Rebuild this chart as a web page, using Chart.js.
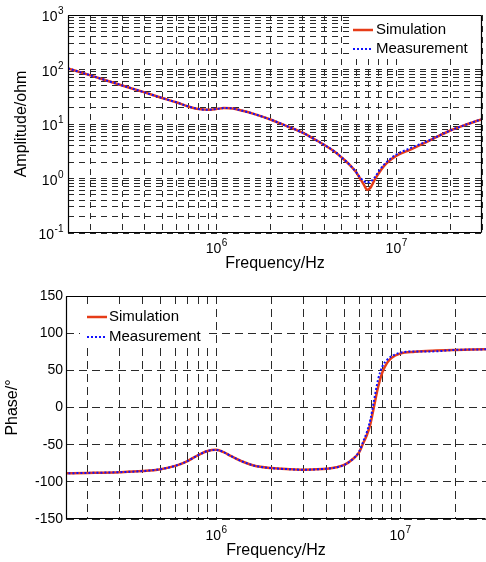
<!DOCTYPE html>
<html>
<head>
<meta charset="utf-8">
<script src="https://cdn.jsdelivr.net/npm/chart.js@4.4.0/dist/chart.umd.min.js"></script>
<style>
    html, body { margin: 0; padding: 0; background: #fff; }
    #wrap { position: relative; width: 486px; height: 562px; overflow: hidden; }
    canvas { position: absolute; left: 0; }
    #ampCanvas { top: 0; }
    #phaseCanvas { top: 280px; }
</style>
</head>
<body>
<div id="wrap">
    <canvas id="ampCanvas" width="486" height="280"></canvas>
    <canvas id="phaseCanvas" width="486" height="282"></canvas>
</div>
<script>
// frequency samples (Hz)
const freq = [1.5e5, 2e5, 3e5, 4e5, 5e5, 6e5, 7e5, 8e5, 9e5, 1e6, 1.1e6, 1.2e6, 1.4e6, 1.6e6,
    2e6, 2.5e6, 3e6, 3.5e6, 4e6, 4.5e6, 5e6, 5.5e6, 6e6, 6.3e6, 6.6e6, 6.9e6, 7.2e6, 7.6e6,
    8e6, 8.5e6, 9e6, 1e7, 1.2e7, 1.5e7, 2e7, 2.5e7, 3e7];

// amplitude (ohm)
const ampSim = [105, 78, 51, 38, 30, 25, 21, 18.8, 18.2, 18.8, 19.6, 19.5, 17.5, 15.5,
    12.1, 9, 7, 5.3, 4.1, 3.2, 2.4, 1.8, 1.3, 1.0, 0.78, 0.62, 0.68, 0.95,
    1.25, 1.65, 2.0, 2.6, 3.4, 4.8, 7.6, 10, 12.3];
const ampMeas = [105, 78, 51, 38, 30, 25, 21, 18.8, 18.2, 18.8, 19.6, 19.5, 17.5, 15.5,
    12.1, 9, 7, 5.3, 4.1, 3.2, 2.4, 1.8, 1.3, 1.05, 0.9, 0.85, 0.88, 1.05,
    1.35, 1.75, 2.1, 2.75, 3.6, 4.9, 7.6, 10, 12.3];

// phase (degree)
const phaseSim = [-88.5, -88, -87, -85.5, -83, -78.5, -72, -64, -58.5, -57, -60, -65, -73, -78,
    -81.5, -83, -83.7, -83.2, -82.3, -80.5, -77, -70, -60, -48, -37, -22, 0, 28,
    47, 60, 67, 72.5, 75, 76.5, 77.5, 78, 78.3];
const phaseMeas = [-88.5, -88, -87, -85.5, -83, -78.5, -72, -64, -58.5, -57, -60, -65, -73, -78,
    -81.5, -83, -83.7, -83.2, -82.3, -80.5, -77, -70, -59, -46, -33, -16, 8, 38,
    55, 64, 69, 73.5, 75.5, 75.5, 77.5, 78, 78.3];

const seriesNames = ['Simulation', 'Measurement'];
const freqDecades = [1e5, 1e6, 1e7];
const ampDecades = [0.1, 1, 10, 100, 1000];
const phaseTicks = [-150, -100, -50, 0, 50, 100, 150];

const FONT = '"Liberation Sans", Arial, sans-serif';

// 1..9 x decade, for log grid lines
function logTicks(decades, min, max) {
    const out = [];
    decades.forEach(d => {
        for (let k = 1; k < 10; k++) {
            const v = d * k;
            if (v >= min * 0.9999 && v <= max * 1.0001) out.push({ value: v });
        }
    });
    return out;
}

function toPoints(ys) {
    return freq.map((f, i) => ({ x: f, y: ys[i] }));
}

function makeDatasets(sim, meas) {
    return [{
        label: seriesNames[0],
        data: toPoints(sim),
        borderColor: '#e63c18',
        borderWidth: 2.5,
        pointRadius: 0,
        order: 1,
        cubicInterpolationMode: 'monotone'
    }, {
        label: seriesNames[1],
        data: toPoints(meas),
        borderColor: '#1010ff',
        borderWidth: 2,
        borderDash: [2, 2],
        pointRadius: 0,
        order: 0,
        cubicInterpolationMode: 'monotone'
    }];
}

function framePlugin(sides) {
    return {
        id: 'frame',
        afterDraw(chart) {
            const { ctx, chartArea: a } = chart;
            const l = Math.round(a.left) + 0.5, r = Math.round(a.right) - 0.5;
            const t = Math.round(a.top) + 0.5, b = Math.round(a.bottom) - 0.5;
            ctx.save();
            ctx.strokeStyle = '#000';
            ctx.lineWidth = 1.2;
            ctx.beginPath();
            ctx.moveTo(l, t); ctx.lineTo(l, b); ctx.lineTo(r, b);
            if (sides.right) { ctx.moveTo(r, b); ctx.lineTo(r, t); }
            ctx.moveTo(l, t); ctx.lineTo(r, t);
            ctx.stroke();
            ctx.restore();
        }
    };
}

// "10" with a raised exponent, placed at the scale's pixel for each decade
function powerLabelPlugin(list) {
    return {
        id: 'powerLabels',
        afterDraw(chart) {
            const ctx = chart.ctx;
            ctx.save();
            ctx.fillStyle = '#000';
            ctx.textBaseline = 'alphabetic';
            ctx.textAlign = 'left';
            list.forEach(c => {
                const scale = chart.scales[c.axis];
                c.values.forEach(v => {
                    const p = scale.getPixelForValue(v);
                    const lo = c.axis === 'x' ? scale.left : scale.top;
                    const hi = c.axis === 'x' ? scale.right : scale.bottom;
                    if (p < lo - 1 || p > hi + 1) return;
                    const exp = String(Math.round(Math.log10(v)));
                    ctx.font = '14px ' + FONT;
                    const wb = ctx.measureText('10').width;
                    ctx.font = '10px ' + FONT;
                    const we = ctx.measureText(exp).width;
                    let x0, y0;
                    if (c.axis === 'x') {
                        x0 = p - (wb + we) / 2;
                        y0 = c.baseline;
                    } else {
                        x0 = c.right - wb - we;
                        y0 = p + c.dy;
                    }
                    ctx.font = '14px ' + FONT;
                    ctx.fillText('10', x0, y0);
                    ctx.font = '10px ' + FONT;
                    ctx.fillText(exp, x0 + wb + 0.5, y0 - 7);
                });
            });
            ctx.restore();
        }
    };
}

function legendPlugin(box) {
    return {
        id: 'boxLegend',
        afterDatasetsDraw(chart) {
            const ctx = chart.ctx;
            ctx.save();
            ctx.fillStyle = '#fff';
            ctx.fillRect(box.x, box.y, box.w, box.h);
            ctx.font = '15px ' + FONT;
            ctx.textBaseline = 'middle';
            chart.data.datasets.forEach((ds, i) => {
                const y = box.first + i * box.step;
                ctx.strokeStyle = ds.borderColor;
                ctx.lineWidth = ds.borderWidth;
                ctx.setLineDash(ds.borderDash || []);
                ctx.beginPath();
                ctx.moveTo(box.lineX, y);
                ctx.lineTo(box.lineX + 20, y);
                ctx.stroke();
                ctx.setLineDash([]);
                ctx.fillStyle = '#000';
                ctx.fillText(ds.label, box.textX, y);
            });
            ctx.restore();
        }
    };
}

const gridStyle = { color: '#2a2a2a', lineWidth: 1, drawTicks: false };

// Amplitude plot
new Chart(document.getElementById('ampCanvas'), {
    type: 'line',
    data: { datasets: makeDatasets(ampSim, ampMeas) },
    options: {
        responsive: false,
        animation: false,
        devicePixelRatio: 1,
        layout: { padding: { left: 0, right: 4, top: 15, bottom: 0 } },
        plugins: { legend: { display: false }, tooltip: { enabled: false } },
        scales: {
            x: {
                type: 'logarithmic',
                min: 1.5e5,
                max: 3e7,
                grid: gridStyle,
                border: { display: false, dash: [6, 5] },
                afterBuildTicks: s => { s.ticks = logTicks(freqDecades, 1.5e5, 3e7); },
                afterFit: s => { s.height = 47; },
                ticks: { display: false, autoSkip: false },
                title: {
                    display: true, text: 'Frequency/Hz', color: '#000',
                    font: { family: FONT, size: 16 }, padding: { top: 0, bottom: 7 }
                }
            },
            y: {
                type: 'logarithmic',
                min: 0.1,
                max: 1000,
                grid: gridStyle,
                border: { display: false, dash: [6, 5] },
                afterBuildTicks: s => { s.ticks = logTicks(ampDecades, 0.1, 1000); },
                afterFit: s => { s.width = 68; },
                ticks: { display: false, autoSkip: false },
                title: {
                    display: true, text: 'Amplitude/ohm', color: '#000',
                    font: { family: FONT, size: 16 }, padding: { top: 12, bottom: 0 }
                }
            }
        }
    },
    plugins: [
        legendPlugin({ x: 350, y: 16, w: 131, h: 41, lineX: 353, textX: 376, first: 30, step: 19 }),
        framePlugin({ right: true }),
        powerLabelPlugin([
            { axis: 'x', values: freqDecades, baseline: 253 },
            { axis: 'y', values: ampDecades, right: 63, dy: 6 }
        ])
    ]
});

// Phase plot
new Chart(document.getElementById('phaseCanvas'), {
    type: 'line',
    data: { datasets: makeDatasets(phaseSim, phaseMeas) },
    options: {
        responsive: false,
        animation: false,
        devicePixelRatio: 1,
        layout: { padding: { left: 0, right: 0, top: 16, bottom: 0 } },
        plugins: { legend: { display: false }, tooltip: { enabled: false } },
        scales: {
            x: {
                type: 'logarithmic',
                min: 1.53e5,
                max: 2.93e7,
                grid: gridStyle,
                border: { display: false, dash: [8, 5] },
                afterBuildTicks: s => { s.ticks = logTicks(freqDecades, 1.53e5, 2.93e7); },
                afterFit: s => { s.height = 43; },
                ticks: { display: false, autoSkip: false },
                title: {
                    display: true, text: 'Frequency/Hz', color: '#000',
                    font: { family: FONT, size: 16 }, padding: { top: 0, bottom: 2 }
                }
            },
            y: {
                min: -150,
                max: 150,
                grid: gridStyle,
                border: { display: false, dash: [8, 5] },
                afterBuildTicks: s => { s.ticks = phaseTicks.map(v => ({ value: v })); },
                afterFit: s => { s.width = 66; },
                ticks: {
                    autoSkip: false, padding: 3, color: '#000',
                    font: { family: FONT, size: 14 }
                },
                title: {
                    display: true, text: 'Phase/\u00B0', color: '#000',
                    font: { family: FONT, size: 16 }, padding: { top: 3, bottom: 0 }
                }
            }
        }
    },
    plugins: [
        legendPlugin({ x: 80, y: 24, w: 129, h: 43, lineX: 87, textX: 109, first: 37, step: 20 }),
        framePlugin({ right: false }),
        powerLabelPlugin([
            { axis: 'x', values: freqDecades, baseline: 260 }
        ])
    ]
});
</script>
</body>
</html>
